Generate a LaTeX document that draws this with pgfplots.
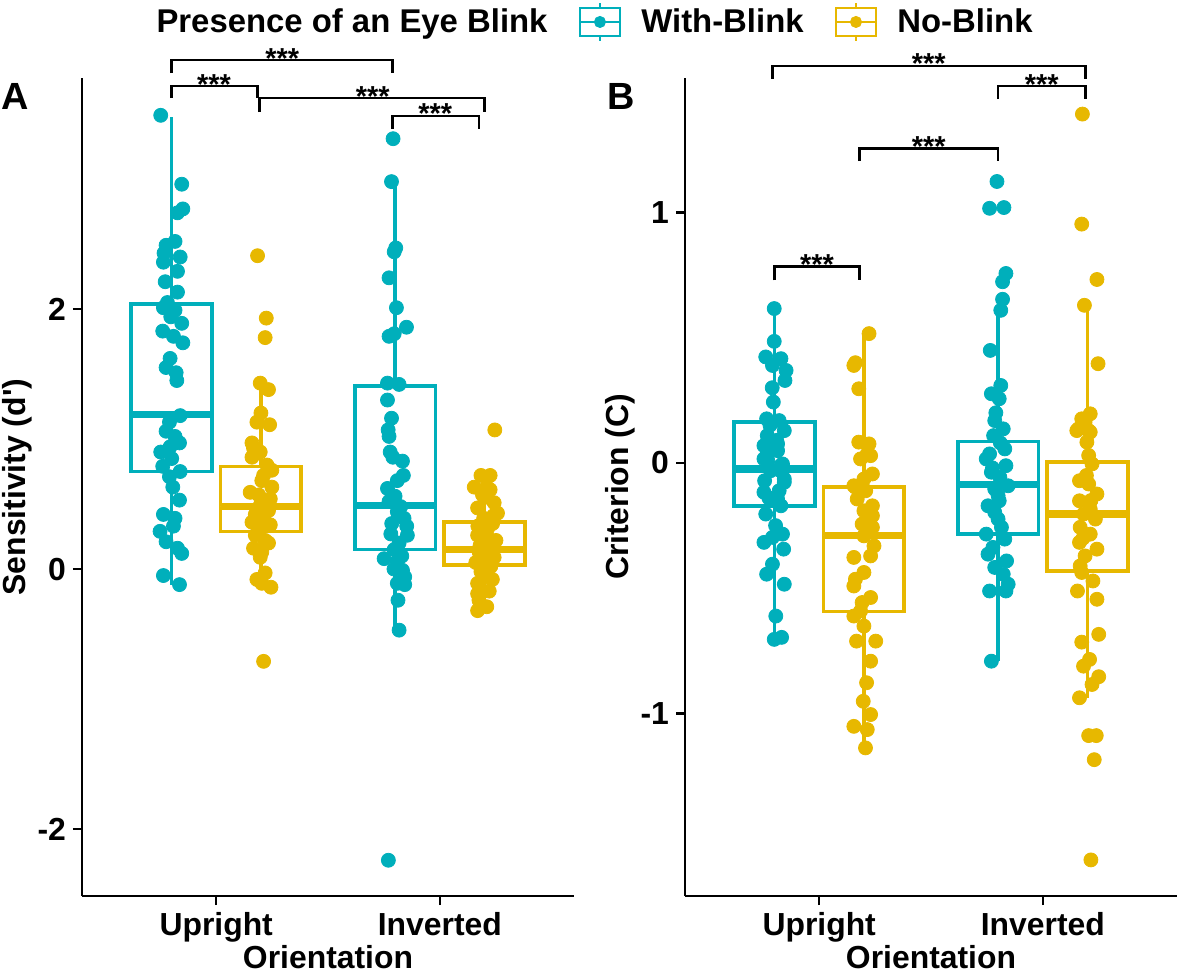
\documentclass[border=0pt]{standalone}
\usepackage{pgfplots}
\pgfplotsset{compat=1.18}
\usepgfplotslibrary{statistics}
\usepackage{fontspec}
\setmainfont{Liberation Sans}

\definecolor{wb}{HTML}{00AFBB}
\definecolor{nb}{HTML}{E7B800}

\newcommand{\fs}{\bfseries\fontsize{16}{19}\selectfont}

% bracket: x1, x2, line y, leg y, mid x
\newcommand{\bracket}[5]{%
  \draw[line width=1.4bp, black] (axis cs:#1,#4) -- (axis cs:#1,#3) -- (axis cs:#2,#3) -- (axis cs:#2,#4);
  \node[font=\bfseries\fontsize{14.5}{16}\selectfont, anchor=base, inner sep=0pt, yshift=-4bp] at (axis cs:#5,#3) {***};}

\pgfplotsset{
  panel/.style={
    scale only axis, width=246bp, height=409bp,
    axis x line*=bottom, axis y line*=left,
    axis line style={-, line width=1.3bp},
    xmin=0.4, xmax=2.6, xtick={1,2}, xticklabels={Upright,Inverted},
    tick align=outside, major tick length=4.5bp,
    tick style={line width=1.3bp, black},
    tick label style={font=\fs},
    label style={font=\fs},
    xlabel={Orientation},
    xlabel style={at={(axis description cs:0.5,0)}, anchor=base, yshift=-36bp},
    ylabel style={at={(axis description cs:-0.131,0.5)}, anchor=center},
    clip=false,
  },
  wbox/.style={draw=wb, line width=1.8bp, fill=white, forget plot,
    boxplot/draw direction=y,
    boxplot/every median/.style={line width=3.6bp}},
  nbox/.style={draw=nb, line width=1.8bp, fill=white, forget plot,
    boxplot/draw direction=y,
    boxplot/every median/.style={line width=3.6bp}},
  wpts/.style={only marks, mark=*, mark size=3.5bp, color=wb, mark options={draw=wb, fill=wb}, forget plot},
  npts/.style={only marks, mark=*, mark size=3.5bp, color=nb, mark options={draw=nb, fill=nb}, forget plot},
}

\begin{document}
\begin{tikzpicture}
\path[use as bounding box] (-41bp,-38bp) rectangle (548.5bp,448bp);

% ---------------- Panel A ----------------
\begin{axis}[panel, at={(0,0)}, anchor=south west,
  ymin=-2.515, ymax=3.777, ytick={-2,0,2}, yticklabels={-2,0,2},
  ylabel={Sensitivity (d\textquotesingle)},
  legend columns=-1,
  legend style={at={(axis description cs:0.110,1.0685)}, anchor=west, draw=none,
    font=\bfseries\fontsize{16.5}{19}\selectfont, inner sep=0pt,
    nodes={inner sep=0pt},
    /tikz/every even column/.append style={column sep=15.5bp},
    /tikz/every odd column/.append style={column sep=10bp}},
]
\addplot[wbox, boxplot prepared={draw position=0.8, box extend=0.36, whisker extend=0,
  lower whisker=-0.12, lower quartile=0.75, median=1.19, upper quartile=2.04, upper whisker=3.48}] coordinates {};
\addplot[nbox, boxplot prepared={draw position=1.2, box extend=0.36, whisker extend=0,
  lower whisker=-0.14, lower quartile=0.29, median=0.48, upper quartile=0.79, upper whisker=1.43}] coordinates {};
\addplot[wbox, boxplot prepared={draw position=1.8, box extend=0.36, whisker extend=0,
  lower whisker=-0.47, lower quartile=0.15, median=0.49, upper quartile=1.41, upper whisker=2.98}] coordinates {};
\addplot[nbox, boxplot prepared={draw position=2.2, box extend=0.36, whisker extend=0,
  lower whisker=-0.31, lower quartile=0.03, median=0.15, upper quartile=0.36, upper whisker=0.72}] coordinates {};

\addplot[wpts] coordinates {
(0.752,3.49) (0.846,2.96) (0.851,2.77) (0.827,2.74) (0.816,2.52) (0.776,2.49)
(0.767,2.43) (0.839,2.40) (0.764,2.36) (0.827,2.29) (0.772,2.21) (0.827,2.13)
(0.782,2.05) (0.764,2.01) (0.816,1.99) (0.797,1.94) (0.846,1.89) (0.761,1.83)
(0.809,1.79) (0.851,1.74) (0.794,1.62) (0.776,1.55) (0.821,1.51) (0.824,1.45)
(0.839,1.18) (0.791,1.13) (0.776,1.06) (0.816,1.02) (0.836,0.97) (0.794,0.94)
(0.752,0.90) (0.801,0.85) (0.761,0.79) (0.839,0.75) (0.791,0.71) (0.806,0.63)
(0.836,0.53) (0.764,0.42) (0.816,0.39) (0.809,0.33) (0.749,0.29) (0.776,0.21)
(0.827,0.16) (0.846,0.12) (0.764,-0.05) (0.836,-0.12)
};
\addplot[npts] coordinates {
(1.185,2.41) (1.224,1.93) (1.219,1.78) (1.197,1.43) (1.234,1.38) (1.200,1.20)
(1.182,1.13) (1.239,1.11) (1.160,0.97) (1.167,0.93) (1.197,0.90) (1.160,0.86)
(1.227,0.80) (1.249,0.76) (1.212,0.72) (1.204,0.68) (1.249,0.63) (1.152,0.59)
(1.190,0.57) (1.242,0.54) (1.219,0.52) (1.197,0.49) (1.234,0.45) (1.175,0.42)
(1.212,0.39) (1.160,0.36) (1.242,0.34) (1.197,0.31) (1.175,0.26) (1.219,0.22)
(1.234,0.20) (1.167,0.16) (1.204,0.13) (1.197,0.09) (1.219,-0.03) (1.182,-0.08)
(1.204,-0.11) (1.245,-0.14) (1.212,-0.71)
};
\addplot[wpts] coordinates {
(1.791,3.31) (1.784,2.98) (1.803,2.47) (1.796,2.44) (1.773,2.24) (1.806,2.01)
(1.851,1.86) (1.796,1.81) (1.773,1.79) (1.766,1.43) (1.818,1.42) (1.766,1.30)
(1.784,1.16) (1.769,1.07) (1.773,1.02) (1.778,0.90) (1.833,0.83) (1.790,0.86)
(1.837,0.72) (1.810,0.68) (1.766,0.62) (1.800,0.56) (1.773,0.52) (1.825,0.48)
(1.810,0.44) (1.840,0.39) (1.785,0.35) (1.852,0.33) (1.781,0.27) (1.855,0.26)
(1.818,0.20) (1.796,0.15) (1.830,0.10) (1.751,0.08) (1.810,0.06) (1.795,0.00)
(1.833,-0.01) (1.843,-0.06) (1.810,-0.11) (1.843,-0.12) (1.813,-0.24) (1.818,-0.47)
(1.770,-2.24)
};
\addplot[npts] coordinates {
(2.246,1.07) (2.184,0.72) (2.225,0.72) (2.154,0.63) (2.210,0.63) (2.225,0.61)
(2.191,0.57) (2.200,0.55) (2.243,0.51) (2.169,0.47) (2.258,0.43) (2.240,0.41)
(2.196,0.39) (2.236,0.35) (2.170,0.33) (2.213,0.31) (2.205,0.28) (2.169,0.26)
(2.215,0.24) (2.251,0.22) (2.191,0.20) (2.180,0.18) (2.221,0.16) (2.176,0.13)
(2.232,0.12) (2.188,0.10) (2.243,0.09) (2.199,0.07) (2.161,0.05) (2.195,0.04)
(2.228,0.02) (2.184,-0.02) (2.210,-0.04) (2.206,-0.06) (2.235,-0.08) (2.169,-0.11)
(2.221,-0.17) (2.169,-0.19) (2.175,-0.24) (2.210,-0.29) (2.169,-0.32)
};

\addlegendimage{empty legend}
\addlegendentry{Presence of an Eye Blink}
\addlegendimage{legend image code/.code={
  \draw[wb, line width=1.4bp] (0bp,-7bp) rectangle (20bp,7bp);
  \draw[wb, line width=1.4bp] (10bp,-9.5bp) -- (10bp,-7bp) (10bp,7bp) -- (10bp,9.5bp);
  \draw[wb, line width=1.4bp] (0bp,0bp) -- (20bp,0bp);
  \fill[wb] (10bp,0bp) circle (2.8bp);}}
\addlegendentry{With-Blink}
\addlegendimage{legend image code/.code={
  \draw[nb, line width=1.4bp] (0bp,-7bp) rectangle (20bp,7bp);
  \draw[nb, line width=1.4bp] (10bp,-9.5bp) -- (10bp,-7bp) (10bp,7bp) -- (10bp,9.5bp);
  \draw[nb, line width=1.4bp] (0bp,0bp) -- (20bp,0bp);
  \fill[nb] (10bp,0bp) circle (2.8bp);}}
\addlegendentry{No-Blink}

\bracket{0.8}{1.79}{3.915}{3.815}{1.295}
\bracket{0.8}{1.185}{3.715}{3.623}{0.99}
\bracket{1.195}{2.2}{3.623}{3.515}{1.70}
\bracket{1.79}{2.175}{3.485}{3.385}{1.98}

\node[font=\bfseries\fontsize{19}{22}\selectfont] at (axis description cs:-0.136,0.977) {A};
\end{axis}

% ---------------- Panel B ----------------
\begin{axis}[panel, at={(301.5bp,0)}, anchor=south west,
  ymin=-1.728, ymax=1.536, ytick={-1,0,1}, yticklabels={-1,0,1},
  ylabel={Criterion (C)},
]
\addplot[wbox, boxplot prepared={draw position=0.8, box extend=0.36, whisker extend=0,
  lower whisker=-0.70, lower quartile=-0.171, median=-0.024, upper quartile=0.164, upper whisker=0.616}] coordinates {};
\addplot[nbox, boxplot prepared={draw position=1.2, box extend=0.36, whisker extend=0,
  lower whisker=-1.137, lower quartile=-0.592, median=-0.291, upper quartile=-0.097, upper whisker=0.516}] coordinates {};
\addplot[wbox, boxplot prepared={draw position=1.8, box extend=0.36, whisker extend=0,
  lower whisker=-0.791, lower quartile=-0.284, median=-0.087, upper quartile=0.085, upper whisker=0.609}] coordinates {};
\addplot[nbox, boxplot prepared={draw position=2.2, box extend=0.36, whisker extend=0,
  lower whisker=-0.937, lower quartile=-0.431, median=-0.204, upper quartile=0.003, upper whisker=0.629}] coordinates {};

\addplot[wpts] coordinates {
(0.799,0.616) (0.799,0.485) (0.761,0.423) (0.829,0.416) (0.791,0.389) (0.852,0.369)
(0.847,0.329) (0.790,0.300) (0.795,0.243) (0.765,0.176) (0.821,0.169) (0.780,0.150)
(0.844,0.129) (0.768,0.109) (0.810,0.090) (0.814,0.076) (0.753,0.069) (0.814,0.049)
(0.768,0.043) (0.753,0.016) (0.770,0.010) (0.836,-0.004) (0.829,-0.010) (0.783,-0.031)
(0.825,-0.030) (0.844,-0.064) (0.756,-0.071) (0.844,-0.077) (0.821,-0.111) (0.753,-0.117)
(0.775,-0.140) (0.814,-0.144) (0.829,-0.171) (0.761,-0.204) (0.805,-0.250) (0.836,-0.284)
(0.791,-0.297) (0.753,-0.317) (0.841,-0.344) (0.791,-0.404) (0.765,-0.444) (0.844,-0.484)
(0.806,-0.611) (0.799,-0.704) (0.832,-0.696)
};
\addplot[npts] coordinates {
(1.223,0.516) (1.162,0.400) (1.155,0.389) (1.177,0.296) (1.177,0.083) (1.223,0.076)
(1.215,0.036) (1.230,0.029) (1.185,0.016) (1.238,-0.044) (1.200,-0.064) (1.155,-0.091)
(1.162,-0.097) (1.208,-0.111) (1.170,-0.144) (1.238,-0.171) (1.200,-0.191) (1.238,-0.211)
(1.192,-0.244) (1.238,-0.257) (1.200,-0.291) (1.245,-0.331) (1.230,-0.371) (1.155,-0.377)
(1.200,-0.437) (1.162,-0.464) (1.155,-0.491) (1.230,-0.537) (1.192,-0.557) (1.185,-0.591)
(1.155,-0.611) (1.200,-0.651) (1.167,-0.711) (1.253,-0.711) (1.230,-0.791) (1.212,-0.877)
(1.197,-0.951) (1.230,-1.004) (1.155,-1.051) (1.215,-1.064) (1.207,-1.137)
};
\addplot[wpts] coordinates {
(1.795,1.123) (1.762,1.016) (1.826,1.019) (1.835,0.756) (1.820,0.723) (1.820,0.653)
(1.812,0.609) (1.765,0.449) (1.812,0.309) (1.770,0.276) (1.805,0.256) (1.790,0.200)
(1.785,0.169) (1.823,0.136) (1.780,0.109) (1.810,0.080) (1.830,0.056) (1.762,0.036)
(1.747,0.016) (1.835,-0.011) (1.775,-0.020) (1.770,-0.037) (1.808,-0.057) (1.845,-0.091)
(1.785,-0.104) (1.800,-0.130) (1.805,-0.151) (1.755,-0.171) (1.785,-0.197) (1.800,-0.224)
(1.815,-0.257) (1.747,-0.284) (1.830,-0.304) (1.777,-0.337) (1.755,-0.364) (1.838,-0.391)
(1.785,-0.417) (1.823,-0.444) (1.845,-0.484) (1.762,-0.511) (1.835,-0.511) (1.770,-0.791)
};
\addplot[npts] coordinates {
(2.177,1.392) (2.174,0.953) (2.242,0.732) (2.186,0.629) (2.247,0.396) (2.212,0.196)
(2.174,0.176) (2.189,0.163) (2.159,0.136) (2.205,0.129) (2.152,0.129) (2.212,0.123)
(2.197,0.083) (2.205,0.030) (2.220,-0.004) (2.195,-0.050) (2.164,-0.071) (2.205,-0.084)
(2.242,-0.124) (2.215,-0.150) (2.164,-0.151) (2.212,-0.184) (2.182,-0.204) (2.235,-0.224)
(2.167,-0.257) (2.212,-0.284) (2.180,-0.300) (2.164,-0.317) (2.242,-0.344) (2.189,-0.371)
(2.167,-0.411) (2.174,-0.437) (2.224,-0.471) (2.155,-0.511) (2.242,-0.544) (2.250,-0.684)
(2.174,-0.715) (2.209,-0.784) (2.182,-0.811) (2.250,-0.853) (2.220,-0.884) (2.164,-0.937)
(2.205,-1.088) (2.239,-1.088) (2.230,-1.184) (2.215,-1.584)
};

\bracket{0.79}{2.19}{1.584}{1.532}{1.49}
\bracket{1.80}{2.19}{1.504}{1.452}{1.995}
\bracket{1.18}{1.80}{1.256}{1.204}{1.49}
\bracket{0.80}{1.18}{0.784}{0.728}{0.99}

\node[font=\bfseries\fontsize{19}{22}\selectfont] at (axis description cs:-0.13,0.977) {B};
\end{axis}
\end{tikzpicture}
\end{document}
